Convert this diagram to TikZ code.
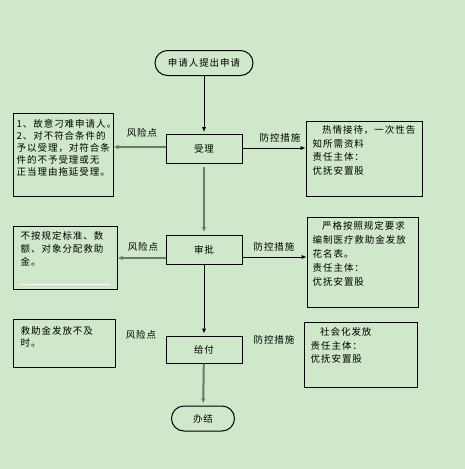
\documentclass[tikz,border=0pt]{standalone}
\usepackage{fontspec}
\setmainfont{Noto Sans CJK SC}[LetterSpace=10]
\usetikzlibrary{arrows.meta, positioning}
\definecolor{bggreen}{RGB}{207,232,201}
\definecolor{linegray}{RGB}{108,120,108}

\begin{document}
\begin{tikzpicture}[x=1pt, y=-1pt,
    font=\fontsize{9.5}{13}\selectfont,
    stepbox/.style={draw, line width=1pt, minimum width=76pt, minimum height=29pt, inner sep=0pt},
    endbox/.style={draw, line width=1pt, rounded corners=12.5pt, minimum height=25pt, inner sep=0pt},
    notebox/.style={draw, line width=1pt, inner sep=0pt},
    notetext/.style={align=left, inner sep=0pt},
    tagtext/.style={inner sep=0pt},
    tip/.style={-{Latex[length=5pt,width=4.5pt]}},
    grayline/.style={tip, linegray, line width=2pt},
    blackline/.style={tip, line width=1pt}]

% background
\fill[bggreen] (0,0) rectangle (465,469);
\useasboundingbox (0,0) rectangle (465,469);

% main steps
\node[endbox, minimum width=98pt] (start) at (204,63) {申请人提出申请};
\node[stepbox] (sl) at (204,149) {受理};
\node[stepbox] (sp) at (204,250) {审批};
\node[stepbox, minimum height=27pt] (gf) at (204,349.5) {给付};
\node[endbox, minimum width=63pt] (bj) at (203,418.5) {办结};

% risk boxes (left)
\node[notebox, minimum width=100pt, minimum height=83pt] (r1) at (63,154.5) {};
\node[notetext, font=\fontsize{9.5}{12}\selectfont, below right=7pt and 4pt of r1.north west] (r1t)
    {1、故意刁难申请人。\\2、对不符合条件的\\予以受理，对符合条\\件的不予受理或无\\正当理由拖延受理。};
\node[notebox, minimum width=104pt, minimum height=63pt] (r2) at (65,257.5) {};
\node[notetext, font=\fontsize{9.5}{13}\selectfont, below right=6pt and 8pt of r2.north west] (r2t)
    {不按规定标准、数\\额、对象分配救助\\金。};
\draw[white, line width=0.8pt] ([xshift=8pt, yshift=5pt]r2.south west) -- ([xshift=-8pt, yshift=5pt]r2.south east);
\node[notebox, minimum width=102pt, minimum height=48pt] (r3) at (64,343) {};
\node[notetext, font=\fontsize{9.5}{12}\selectfont, below right=8pt and 8pt of r3.north west] (r3t)
    {救助金发放不及\\时。};

% control boxes (right)
\node[notebox, minimum width=116pt, minimum height=75pt] (m1) at (364,158.5) {};
\node[notetext, font=\fontsize{9.5}{13.5}\selectfont, below right=5pt and 7pt of m1.north west] (m1t)
    {\hspace{1em}热情接待，一次性告\\知所需资料\\责任主体：\\优抚安置股};
\node[notebox, minimum width=111pt, minimum height=90pt] (m2) at (362.5,262) {};
\node[notetext, font=\fontsize{9.5}{14}\selectfont, below right=5pt and 6pt of m2.north west] (m2t)
    {\hspace{1em}严格按照规定要求\\编制医疗救助金发放\\花名表。\\责任主体：\\优抚安置股};
\node[notebox, minimum width=113pt, minimum height=65pt] (m3) at (360.5,354.5) {};
\node[notetext, font=\fontsize{9.5}{13.5}\selectfont, below right=6pt and 7pt of m3.north west] (m3t)
    {\hspace{1em}社会化发放\\责任主体：\\优抚安置股};

% labels
\node[tagtext] (k1) at (142,133) {风险点};
\node[tagtext] (k2) at (143,247) {风险点};
\node[tagtext] (k3) at (141,335) {风险点};
\node[tagtext] (f1) at (280,138) {防控措施};
\node[tagtext] (f2) at (274,247) {防控措施};
\node[tagtext] (f3) at (274,340) {防控措施};

% flow
\draw[blackline, shorten >=2pt] (start) -- (sl);
\draw[grayline, shorten <=3pt, shorten >=3pt] (sl) -- (sp);
\draw[blackline, shorten >=2pt] (sp) -- (gf);
\draw[grayline, shorten >=2pt] (gf) -- (bj);

% side arrows
\draw[grayline] ([yshift=2pt]sl.west) -- ([yshift=2pt]sl.west -| r1.east);
\draw[blackline] ([yshift=1pt]sl.east) -- ([yshift=1pt]sl.east -| m1.west);
\draw[grayline] ([yshift=-8pt]sp.west) -- ([yshift=-8pt]sp.west -| r2.east);
\draw[blackline] ([yshift=-7pt]sp.east) -- ([yshift=-7pt]sp.east -| m2.west);

\end{tikzpicture}
\end{document}
